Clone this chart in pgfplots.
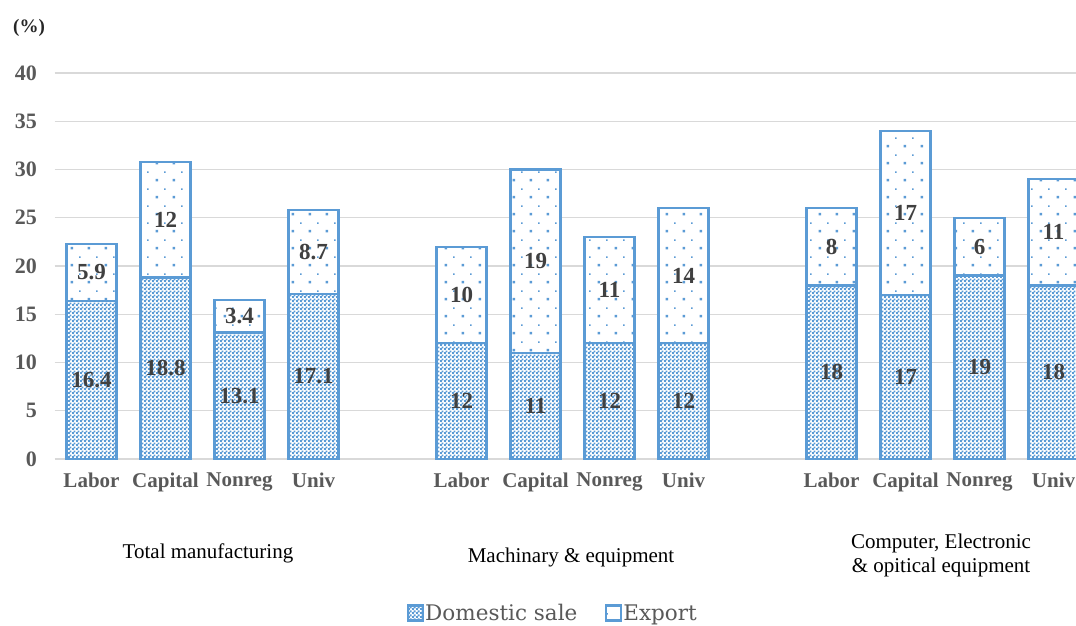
\documentclass[border=0pt]{standalone}
\usepackage{fontspec}
\setmainfont{Liberation Serif}
\newfontfamily\legendfont{DejaVu Serif}
\usepackage{pgfplots}
\pgfplotsset{compat=1.18}
\usepackage{pgfplotstable}
\usetikzlibrary{patterns.meta}

\definecolor{barblue}{HTML}{5B9BD5}
\definecolor{gridgray}{HTML}{D9D9D9}
\definecolor{ticktext}{HTML}{595959}
\definecolor{labeltext}{HTML}{404040}

% fine checkerboard for domestic sales
\pgfdeclarepattern{
  name=finecheck,
  type=uncolored,
  bottom left={\pgfpoint{0pt}{0pt}},
  top right={\pgfpoint{4pt}{4pt}},
  tile size={\pgfpoint{4pt}{4pt}},
  code={
    \pgfpathrectangle{\pgfpoint{0pt}{0pt}}{\pgfpoint{2.25pt}{2.25pt}}
    \pgfpathrectangle{\pgfpoint{2pt}{2pt}}{\pgfpoint{2.25pt}{2.25pt}}
    \pgfusepath{fill}
  }
}
% sparse dots for exports
\pgfdeclarepattern{
  name=sparsedots,
  type=uncolored,
  bottom left={\pgfpoint{0pt}{0pt}},
  top right={\pgfpoint{17pt}{17pt}},
  tile size={\pgfpoint{17pt}{17pt}},
  code={
    \pgfpathrectangle{\pgfpoint{2.7pt}{2.7pt}}{\pgfpoint{2.6pt}{2.6pt}}
    \pgfusepath{fill}
    \pgfpathrectangle{\pgfpoint{11.7pt}{11.7pt}}{\pgfpoint{1.6pt}{1.6pt}}
    \pgfusepath{fill}
  }
}

% x: slot position (groups separated by an empty slot), d: domestic sale, e: export
\pgfplotstableread{
x  d     e
0  16.4  5.9
1  18.8  12
2  13.1  3.4
3  17.1  8.7
5  12    10
6  11    19
7  12    11
8  12    14
10 18    8
11 17    17
12 19    6
13 18    11
}\datatable

\pgfplotsset{
  domstyle/.style={draw=barblue, line width=2.4pt, preaction={fill=white},
    pattern=finecheck, pattern color=barblue},
  expstyle/.style={draw=barblue, line width=2.4pt, preaction={fill=white},
    pattern=sparsedots, pattern color=barblue},
  valuelabels/.style={draw=none, mark=none, forget plot,
    nodes near coords, point meta=explicit,
    every node near coord/.style={anchor=center, text=labeltext,
      font=\bfseries\fontsize{23}{25}\selectfont}},
}

\begin{document}
\begin{tikzpicture}
\useasboundingbox (0,0) rectangle (1076pt,625pt);
\clip (0,0) rectangle (1076pt,625pt);
\begin{axis}[
  at={(54.5pt,166pt)}, anchor=south west,
  x=74pt, y=9.65pt,
  xmin=-0.5, xmax=13.5, ymin=0, ymax=40,
  axis line style={draw=none},
  ytick={0,5,...,40},
  ymajorgrids,
  major grid style={gridgray, line width=1.3pt},
  major tick length=0pt,
  xtick={0,1,2,3,5,6,7,8,10,11,12,13},
  xticklabels={Labor,Capital,Nonreg,Univ,Labor,Capital,Nonreg,Univ,Labor,Capital,Nonreg,Univ},
  /pgf/number format/assume math mode=true,
  yticklabel style={font=\bfseries\fontsize{22}{24}\selectfont, text=ticktext, xshift=-14pt},
  xticklabel style={font=\bfseries\fontsize{21}{24}\selectfont, text=ticktext, yshift=-10pt},
  legend columns=2,
  legend style={at={(axis description cs:0.4812,-0.399)}, anchor=center, draw=none,
    fill=none, font=\legendfont\fontsize{21.5}{24}\selectfont, text=ticktext,
    /tikz/every even column/.append style={column sep=26pt},
    nodes={inner sep=2pt}},
  legend image code/.code={\draw[#1, line width=1pt] (0pt,-7.5pt) rectangle (15pt,7.5pt);},
]
% full bar height (domestic + export) in the export style
\addplot[ybar, bar width=0.68, bar shift=0pt, expstyle, forget plot]
  table[x=x, y expr=\thisrow{d}+\thisrow{e}] {\datatable};
% domestic part drawn over the lower segment
\addplot[ybar, bar width=0.68, bar shift=0pt, domstyle, forget plot]
  table[x=x, y=d] {\datatable};
% value labels centred in each segment
\addplot[valuelabels] table[x=x, y expr=\thisrow{d}/2, meta=d] {\datatable};
\addplot[valuelabels] table[x=x, y expr=\thisrow{d}+\thisrow{e}/2, meta=e] {\datatable};

\addlegendimage{domstyle}
\addlegendentry{Domestic sale}
\addlegendimage{expstyle}
\addlegendentry{Export}
\end{axis}

\node[font=\bfseries\fontsize{19}{22}\selectfont, text=black!85] at (29pt,597pt) {(\%)};
\node[font=\fontsize{21}{24}\selectfont] at (208pt,72pt) {Total manufacturing};
\node[font=\fontsize{21}{24}\selectfont] at (571pt,68pt) {Machinary \& equipment};
\node[font=\fontsize{21}{24}\selectfont, align=center] at (941pt,70pt)
  {Computer, Electronic\\\& opitical equipment};
\end{tikzpicture}
\end{document}
